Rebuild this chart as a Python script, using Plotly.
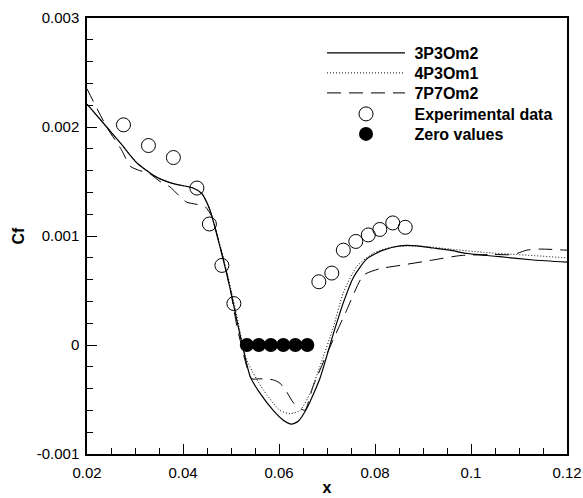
import plotly.graph_objects as go

# ---- data ----
x_3p3 = [0.0200, 0.0241, 0.0272, 0.0304, 0.0345, 0.0380, 0.0421, 0.0439, 0.0456, 0.0470,
         0.0484, 0.0498, 0.0512, 0.0522, 0.0540, 0.0560, 0.0588, 0.0609, 0.0626, 0.0640,
         0.0658, 0.0685, 0.0713, 0.0735, 0.0755, 0.0783, 0.0817, 0.0852, 0.0887, 0.0921,
         0.0956, 0.0991, 0.1060, 0.1130, 0.1200]
y_3p3 = [0.00221, 0.00200, 0.00184, 0.00167, 0.00154, 0.00148, 0.00144, 0.00139, 0.00124, 0.00102,
         0.00078, 0.00052, 0.00023, 0.00003, -0.00029, -0.00044, -0.00060, -0.00069, -0.000725, -0.00070,
         -0.00058, -0.00031, 0.00010, 0.00040, 0.00062, 0.00079, 0.00087, 0.00091, 0.00091, 0.00089,
         0.00087, 0.00084, 0.00081, 0.00078, 0.00076]

x_4p3 = [0.0200, 0.0241, 0.0272, 0.0304, 0.0345, 0.0380, 0.0421, 0.0439, 0.0456, 0.0470,
         0.0484, 0.0498, 0.0512, 0.0533, 0.0567, 0.0602, 0.0623, 0.0644, 0.0665, 0.0685,
         0.0713, 0.0734, 0.0762, 0.0796, 0.0838, 0.0887, 0.0956, 0.1026, 0.1095, 0.1200]
y_4p3 = [0.00221, 0.00200, 0.00184, 0.00167, 0.00154, 0.00148, 0.00144, 0.00139, 0.00124, 0.00103,
         0.00080, 0.00055, 0.00027, -0.00014, -0.00041, -0.00060, -0.00063, -0.00060, -0.00044, -0.00020,
         0.00016, 0.00048, 0.00072, 0.00084, 0.00090, 0.00091, 0.00088, 0.00085, 0.00083, 0.00080]

x_7p7 = [0.0200, 0.0241, 0.0272, 0.0290, 0.0310, 0.0328, 0.0352, 0.0373, 0.0394, 0.0408,
         0.0429, 0.0446, 0.0460, 0.0474, 0.0488, 0.0500, 0.0512, 0.0533, 0.0543, 0.0560,
         0.0588, 0.0602, 0.0616, 0.0630, 0.0644, 0.0654, 0.0671, 0.0706, 0.0741, 0.0776,
         0.0810, 0.0852, 0.0921, 0.0977, 0.1046, 0.1088, 0.1116, 0.1144, 0.1200]
y_7p7 = [0.00235, 0.00200, 0.00179, 0.00164, 0.00160, 0.00158, 0.00150, 0.00145, 0.00136, 0.00131,
         0.00129, 0.00127, 0.00118, 0.00096, 0.00072, 0.00048, 0.00018, -0.00020, -0.00031, -0.00031,
         -0.00032, -0.00035, -0.00043, -0.00053, -0.00058, -0.00060, -0.00038, -0.00002, 0.00032, 0.00064,
         0.00070, 0.00073, 0.00078, 0.00082, 0.00083, 0.00083, 0.00087, 0.00088, 0.00087]

x_exp = [0.0276, 0.0328, 0.0380, 0.0429, 0.0455, 0.0481, 0.0506,
         0.0683, 0.0710, 0.0734, 0.0760, 0.0786, 0.0810, 0.0837, 0.0863]
y_exp = [0.00202, 0.00183, 0.00172, 0.00144, 0.00111, 0.00073, 0.00038,
         0.00058, 0.00066, 0.00087, 0.00095, 0.00101, 0.00106, 0.00112, 0.00108]

x_zero = [0.0533, 0.0558, 0.0583, 0.0609, 0.0634, 0.0659]
y_zero = [0, 0, 0, 0, 0, 0]

y_tickvals = [-0.001, 0, 0.001, 0.002, 0.003]
y_ticktext = ["-0.001", "0", "0.001", "0.002", "0.003"]
x_tickvals = [0.02, 0.04, 0.06, 0.08, 0.1, 0.12]
x_ticktext = ["0.02", "0.04", "0.06", "0.08", "0.1", "0.12"]

FONT = "Liberation Sans, Arial, Helvetica, sans-serif"
NB = "\u00a0"

fig = go.Figure()
fig.add_trace(go.Scatter(x=x_3p3, y=y_3p3, mode="lines", name=NB + "3P3Om2", legend="legend",
                         line=dict(color="black", width=1.2, shape="spline", smoothing=0.6)))
fig.add_trace(go.Scatter(x=x_4p3, y=y_4p3, mode="lines", name=NB + "4P3Om1", legend="legend2",
                         line=dict(color="black", width=1, dash="1px,2px", shape="spline", smoothing=0.6)))
fig.add_trace(go.Scatter(x=x_7p7, y=y_7p7, mode="lines", name=NB + "7P7Om2", legend="legend3",
                         line=dict(color="black", width=1, dash="14px,8px", shape="spline", smoothing=0.6)))
fig.add_trace(go.Scatter(x=x_exp, y=y_exp, mode="markers", name=NB + "Experimental data", legend="legend4",
                         marker=dict(symbol="circle-open", size=14, color="black", line=dict(width=1))))
fig.add_trace(go.Scatter(x=x_zero, y=y_zero, mode="markers", name=NB + "Zero values", legend="legend5",
                         marker=dict(symbol="circle", size=14, color="black")))

axis_common = dict(showgrid=False, zeroline=False, showline=True, linecolor="black", linewidth=1.5,
                   mirror=True, ticks="inside", ticklen=10, tickwidth=1, tickcolor="black",
                   automargin=False,
                   tickfont=dict(family=FONT, size=15, color="black"))

fig.update_xaxes(range=[0.02, 0.12], tickvals=x_tickvals, ticktext=x_ticktext,
                 minor=dict(dtick=0.005, tick0=0.02, ticks="inside", ticklen=6, tickcolor="black"),
                 title=dict(text="<b>x</b>", font=dict(family=FONT, size=16, color="black"), standoff=2),
                 ticklabelstandoff=4,
                 **axis_common)
fig.update_yaxes(range=[-0.001, 0.003], tickvals=y_tickvals, ticktext=y_ticktext,
                 minor=dict(dtick=0.0002, tick0=0, ticks="inside", ticklen=6, tickcolor="black"),
                 title=dict(text="<b>Cf</b>", font=dict(family=FONT, size=16, color="black"), standoff=8),
                 ticklabelstandoff=3,
                 **axis_common)

# legend rows (pixel centres measured on the reference), converted to paper fractions
legend_rows_px = [53, 73, 93, 114, 134]
plot_top, plot_bottom = 18, 454
leg_common = dict(x=0.4896, xanchor="left", yanchor="middle", bgcolor="rgba(0,0,0,0)",
                  itemwidth=78, borderwidth=0,
                  font=dict(family=FONT, size=16, color="black", weight="bold"))
legends = {}
for i, ypx in enumerate(legend_rows_px):
    key = "legend" if i == 0 else f"legend{i + 1}"
    legends[key] = dict(y=(plot_bottom - ypx) / (plot_bottom - plot_top), **leg_common)

fig.update_layout(
    width=583, height=498,
    margin=dict(l=87, r=16, t=18, b=44),
    paper_bgcolor="white", plot_bgcolor="white",
    font=dict(family=FONT, color="black"),
    showlegend=True,
    **legends,
)

fig.write_html("out.html",
               config={"displayModeBar": False},
               post_script="document.body.style.margin='0';document.body.style.overflow='hidden';")
